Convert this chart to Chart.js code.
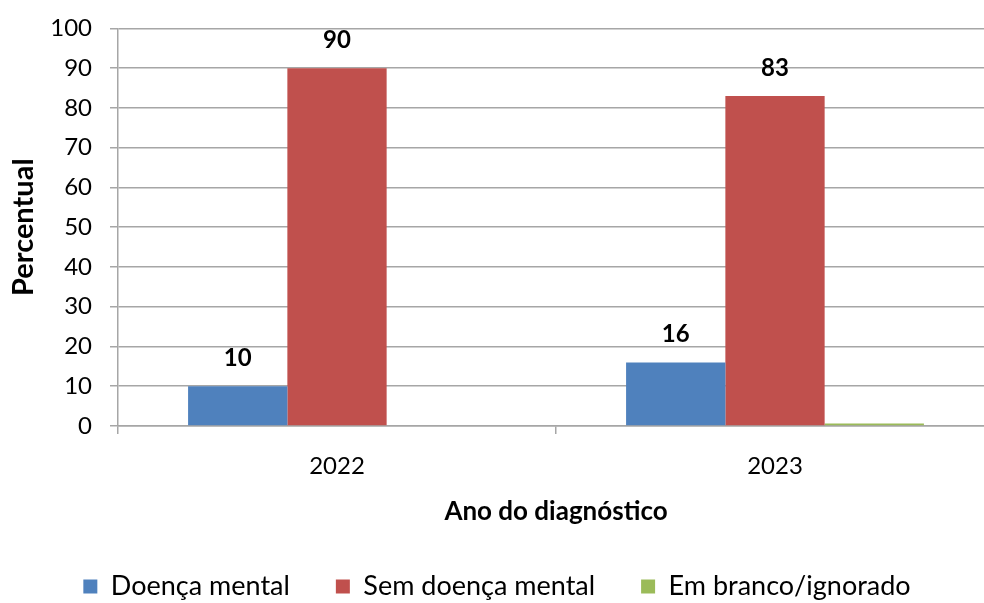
<!DOCTYPE html>
<html>
<head>
<meta charset="utf-8">
<script src="https://cdn.jsdelivr.net/npm/chart.js@4"></script>
<style>
  html, body { margin: 0; padding: 0; background: #ffffff; overflow: hidden; }
  #wrap { width: 1000px; height: 614px; margin-top: -4px; }
</style>
</head>
<body>
<div id="wrap"><canvas id="c" width="1000" height="614"></canvas></div>
<script>
// Diagnosis year and share (%) of each mental-health status
const anos = ['2022', '2023'];
const doencaMental = [10, 16];
const semDoencaMental = [90, 83];
const emBranco = [0, 0.6];
const yTicks = [0, 10, 20, 30, 40, 50, 60, 70, 80, 90, 100];

const FONT = 'Lato, "DejaVu Sans", sans-serif';
const GRID = '#a6a6a6';
const CANVAS_H = 614;
const PLOT_BOTTOM = 430;

// Bold value labels above the first two series
const valueLabels = {
  id: 'valueLabels',
  afterDatasetsDraw(chart) {
    const ctx = chart.ctx;
    ctx.save();
    ctx.font = 'bold 24px ' + FONT;
    ctx.fillStyle = '#000';
    ctx.textAlign = 'center';
    ctx.textBaseline = 'middle';
    [0, 1].forEach(di => {
      const meta = chart.getDatasetMeta(di);
      meta.data.forEach((el, i) => {
        const v = chart.data.datasets[di].data[i];
        ctx.fillText(String(v), el.x, el.y - 28);
      });
    });
    ctx.restore();
  }
};

new Chart(document.getElementById('c'), {
  type: 'bar',
  data: {
    labels: anos,
    datasets: [
      { label: 'Doença mental', data: doencaMental, backgroundColor: '#4F81BD' },
      { label: 'Sem doença mental', data: semDoencaMental, backgroundColor: '#C0504D' },
      { label: 'Em branco/ignorado', data: emBranco, backgroundColor: '#9BBB59' }
    ]
  },
  options: {
    responsive: false,
    animation: false,
    layout: { padding: { top: 6, right: 6, left: 0, bottom: 0 } },
    datasets: { bar: { categoryPercentage: 0.68, barPercentage: 1.0 } },
    plugins: {
      tooltip: { enabled: false },
      legend: {
        position: 'bottom',
        labels: {
          font: { family: FONT, size: 27 },
          color: '#000',
          boxWidth: 14,
          boxHeight: 14,
          padding: 46
        }
      }
    },
    scales: {
      x: {
        grid: { drawOnChartArea: false, drawTicks: true, tickLength: 8, color: GRID, lineWidth: 1.5 },
        border: { color: GRID, width: 1.5 },
        ticks: { font: { family: FONT, size: 24 }, color: '#000', padding: 18 },
        title: {
          display: true, text: 'Ano do diagnóstico', color: '#000',
          font: { family: FONT, size: 26, weight: 'bold' }, padding: { top: 4, bottom: 0 }
        },
        afterFit(scale) {
          const lg = scale.chart.legend ? scale.chart.legend.height : 0;
          scale.height = CANVAS_H - PLOT_BOTTOM - lg;
        }
      },
      y: {
        min: 0, max: 100,
        afterBuildTicks(scale) { scale.ticks = yTicks.map(v => ({ value: v })); },
        grid: { color: GRID, lineWidth: 1.5, tickLength: 8 },
        border: { color: GRID, width: 1.5 },
        ticks: { font: { family: FONT, size: 24 }, color: '#000', padding: 18 },
        title: {
          display: true, text: 'Percentual', color: '#000',
          font: { family: FONT, size: 29, weight: 'bold' }, padding: { top: 6, bottom: 4 }
        },
        afterFit(scale) { scale.width = 118; }
      }
    }
  },
  plugins: [valueLabels]
});
</script>
</body>
</html>
